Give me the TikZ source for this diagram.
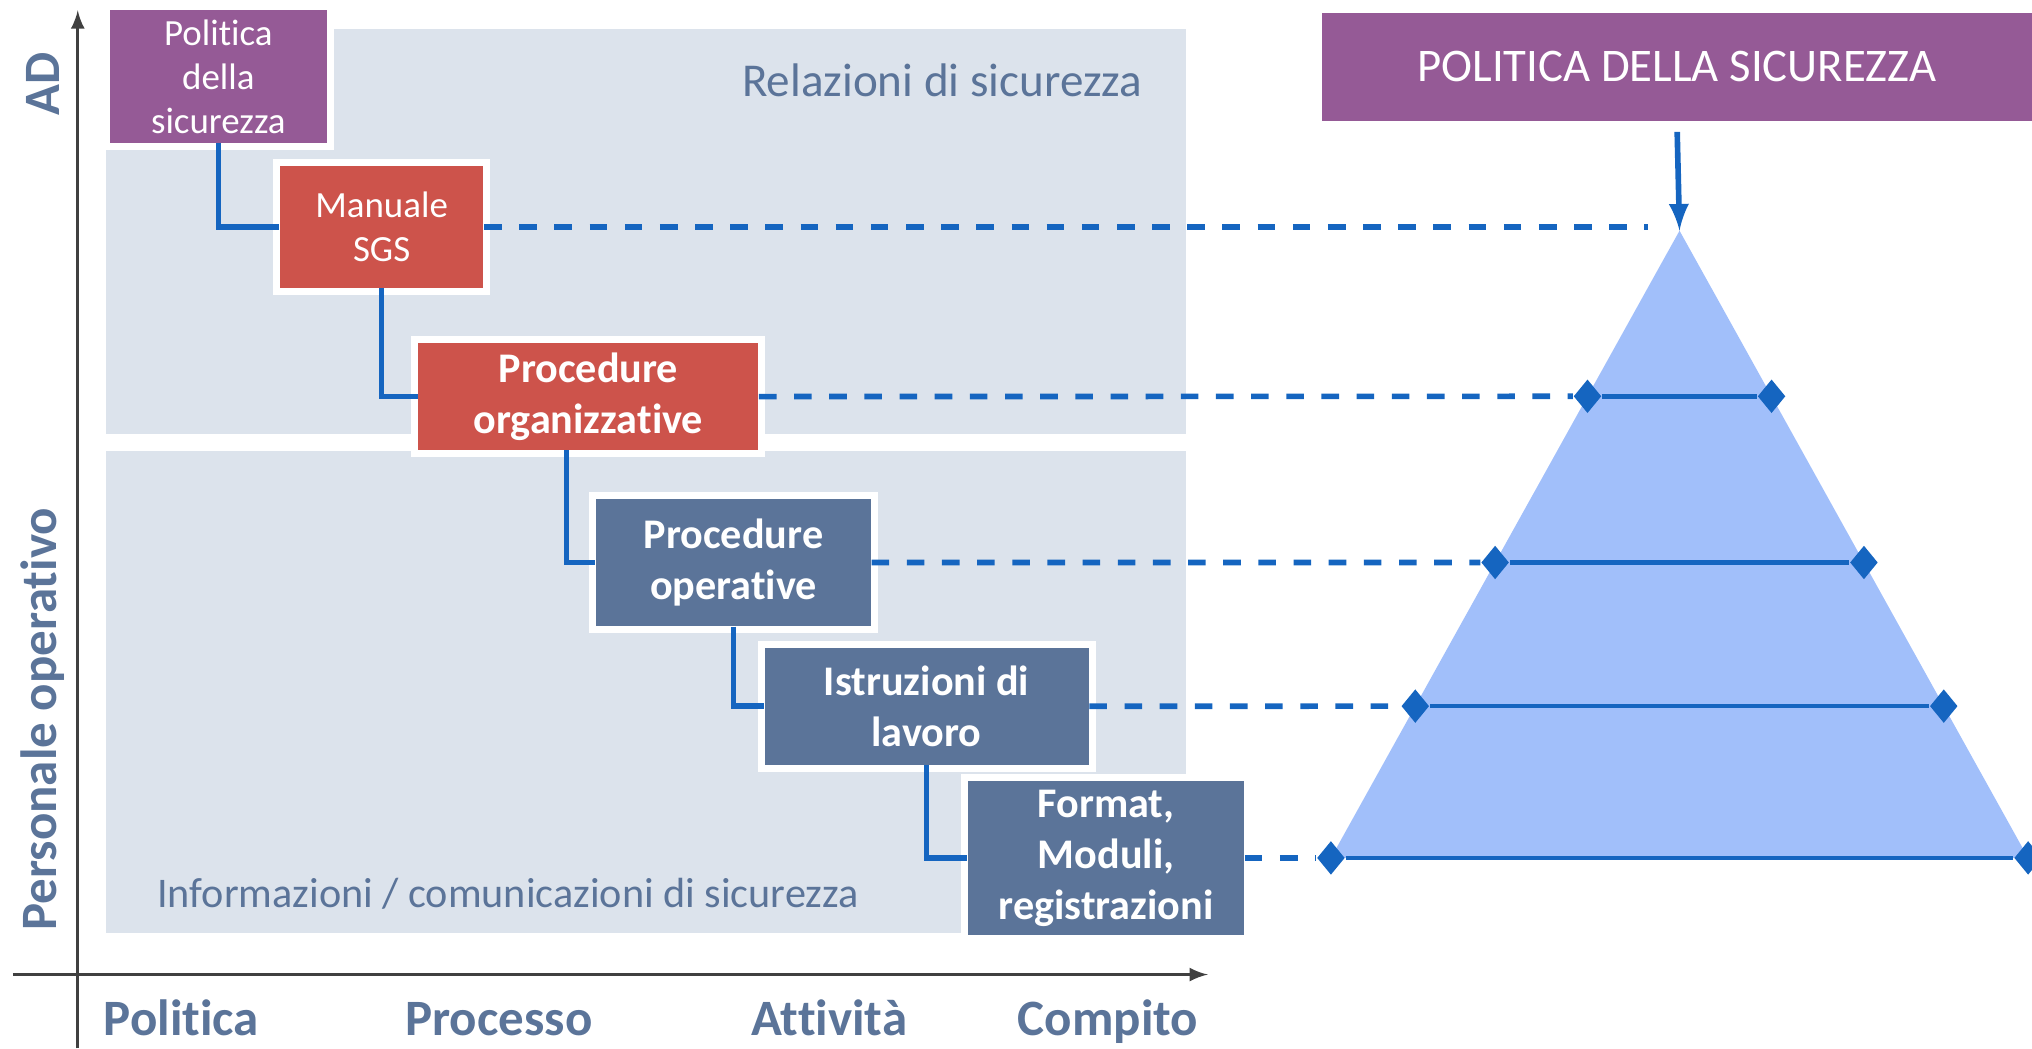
\documentclass[tikz,border=0pt]{standalone}
\usepackage{fontspec}
\setmainfont{Carlito}[Ligatures=NoCommon]
\usetikzlibrary{positioning,shapes.geometric,calc}

\definecolor{viola}{HTML}{955A96}
\definecolor{rosso}{HTML}{CD534B}
\definecolor{ardesia}{HTML}{5B7499}
\definecolor{pannello}{HTML}{DCE3EC}
\definecolor{linea}{HTML}{1565C0}
\definecolor{piramide}{HTML}{A1BFFA}
\definecolor{asse}{HTML}{404040}

\tikzset{
  doc/.style={preaction={draw=white,line width=4pt},text=white,align=center,
    inner sep=0pt,font=\fontsize{10.5}{12.5}\selectfont},
  docb/.style={doc,font=\bfseries\fontsize{12}{14.5}\selectfont},
  conn/.style={draw=linea,line width=1.6pt},
  tratt/.style={conn,dash pattern=on 5pt off 5pt},
  rombo/.style={diamond,fill=linea,inner sep=0pt,minimum width=0.28cm,minimum height=0.34cm},
  lab/.style={text=ardesia,font=\bfseries\fontsize{14.5}{17}\selectfont},
  zona/.style={text=ardesia,font=\fontsize{13.4}{15}\selectfont}
}

\begin{document}
\begin{tikzpicture}[x=0.01296cm,y=-0.01296cm]
  \useasboundingbox (0,0) rectangle (1568,809);
  % fasce di sfondo
  \fill[pannello] (82,22) rectangle (915,335);
  \fill[pannello] (82,348) rectangle (915,720);
  \node[zona] (rel) at (727,62) {Relazioni di sicurezza};
  \node[zona,font=\fontsize{12}{14}\selectfont] (inf) at (392,690) {Informazioni / comunicazioni di sicurezza};

  % assi
  \draw[asse,line width=0.8pt,-latex] (60,809) -- (60,8);
  \draw[asse,line width=0.8pt,-latex] (10,752) -- (932,752);
  \node[lab,anchor=base] (pl) at (140,799) {Politica};
  \node[lab,anchor=base] (pr) at (385,799) {Processo};
  \node[lab,anchor=base] (att) at (640,799) {Attività};
  \node[lab,anchor=base] (co) at (855,799) {Compito};
  \node[lab,rotate=90] (ad) at (33,65) {AD};
  \node[lab,rotate=90] (pers) at (33,555) {Personale operativo};

  % documenti
  \node[doc,fill=viola,minimum width=2.164cm,minimum height=1.322cm] (pol) at (168.5,59) {Politica\\della\\sicurezza};
  \node[doc,fill=rosso,minimum width=2.035cm,minimum height=1.218cm] (man) at (294.5,175) {Manuale\\SGS};
  \node[docb,fill=rosso,minimum width=3.396cm,minimum height=1.063cm] (org) at (454,306) {Procedure\\organizzative};
  \node[docb,fill=ardesia,minimum width=2.748cm,minimum height=1.27cm] (ope) at (566,434) {Procedure\\operative};
  \node[docb,fill=ardesia,minimum width=3.24cm,minimum height=1.166cm] (ist) at (715,545) {Istruzioni di\\lavoro};
  \node[docb,fill=ardesia,minimum width=2.76cm,minimum height=1.542cm] (fmt) at (853.5,662) {Format,\\Moduli,\\registrazioni};

  \draw[conn] (pol.south) |- (man.west);
  \draw[conn] (man.south) |- (org.west);
  \draw[conn] ([xshift=-0.22cm]org.south) |- (ope.west);
  \draw[conn] (ope.south) |- (ist.west);
  \draw[conn] (ist.south) |- (fmt.west);

  % piramide
  \coordinate (apex) at (1296,178);
  \coordinate (bl) at (1027,662);
  \coordinate (br) at (1565,662);
  \fill[piramide] (apex) -- (bl) -- (br) -- cycle;
  \node[doc,fill=viola,minimum width=7.102cm,minimum height=1.076cm,font=\fontsize{13.3}{15}\selectfont] (tit) at (1294,51.5) {POLITICA DELLA SICUREZZA};
  \draw[conn,-latex,shorten <=3pt] (tit.south) -- (apex);

  \draw[tratt,shorten >=9pt] (man.east) -- (man.east -| apex);
  \foreach \b/\f in {org/0.264,ope/0.529,ist/0.758,fmt/1}{
    \node[rombo] (sx\b) at ($(apex)!\f!(bl)$) {};
    \node[rombo] (dx\b) at ($(apex)!\f!(br)$) {};
    \draw[conn,line width=1.3pt] (sx\b) -- (dx\b);
    \draw[tratt] (\b.east) -- (sx\b);
  }
\end{tikzpicture}
\end{document}
